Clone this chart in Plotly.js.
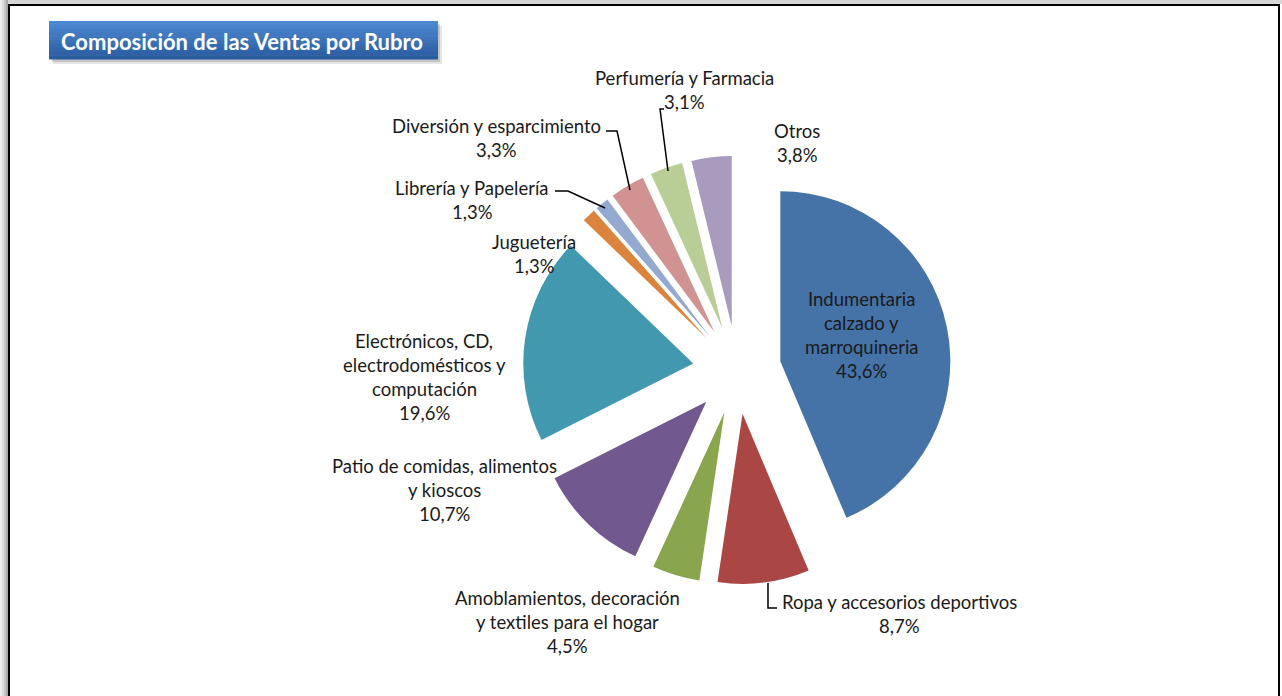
<!DOCTYPE html>
<html><head><meta charset="utf-8">
<script src="https://cdn.plot.ly/plotly-3.0.1.min.js"></script>
<style>html,body{margin:0;padding:0;background:#fff;overflow:hidden}</style>
</head><body><div id="chart" style="width:1282px;height:696px"></div>
<script>
// ---- data ----
const categories = [
  "Indumentaria<br>calzado y<br>marroquineria",
  "Ropa y accesorios deportivos",
  "Amoblamientos, decoración<br>y textiles para el hogar",
  "Patio de comidas, alimentos<br>y kioscos",
  "Electrónicos, CD,<br>electrodomésticos y<br>computación",
  "Juguetería",
  "Librería y Papelería",
  "Diversión y esparcimiento",
  "Perfumería y Farmacia",
  "Otros"
];
const values = [43.6, 8.7, 4.5, 10.7, 19.6, 1.3, 1.3, 3.3, 3.1, 3.8];
const sliceColors = ["#4572a7", "#aa4643", "#89a54e", "#71588f", "#4198af",
                     "#db843d", "#93a9cf", "#d19392", "#b9cd96", "#a99bbd"];
const chartTitle = "Composición de las Ventas por Rubro";

// ---- layout helpers ----
const W = 1282, H = 696;
const X = p => p / W, Y = p => 1 - p / H;
const FONT = "Lato, 'Open Sans', sans-serif";
const LINE = 24;

// label centers (pixel) of the first text line
const labelPos = [
  [862, 299], [899, 602], [567, 598], [444, 466], [424, 341],
  [534, 242], [472, 188], [496, 126], [684, 78], [797, 131]
];

const pull = 0.26, radius = 170, cx = 737, cy = 370;
const half = radius * (1 + pull);

const pieTrace = {
  type: "pie",
  values: values,
  labels: categories.map(c => c.replace(/<br>/g, " ")),
  sort: false,
  direction: "clockwise",
  rotation: 0,
  pull: values.map(() => pull),
  marker: { colors: sliceColors, line: { width: 0 } },
  textinfo: "none",
  hoverinfo: "label+percent",
  showlegend: false,
  domain: { x: [X(cx - half), X(cx + half)], y: [Y(cy + half), Y(cy - half)] }
};

const annotations = [];
categories.forEach((cat, i) => {
  const lines = cat.split("<br>").concat([values[i].toFixed(1).replace(".", ",") + "%"]);
  lines.forEach((ln, j) => {
    annotations.push({
      xref: "paper", yref: "paper", x: X(labelPos[i][0]), y: Y(labelPos[i][1] + j * LINE),
      xanchor: "center", yanchor: "middle", showarrow: false,
      text: ln, font: { family: FONT, size: 18.5, color: "#1a1a1a" }
    });
  });
});
annotations.push({
  xref: "paper", yref: "paper", x: X(242), y: Y(41), xanchor: "center", yanchor: "middle",
  showarrow: false, text: "<b>" + chartTitle + "</b>",
  font: { family: FONT, size: 22, color: "#ffffff" }
});

const shapes = [];
const rect = (x0, y0, x1, y1, fill, extra) => Object.assign({
  type: "rect", xref: "paper", yref: "paper", x0: X(x0), x1: X(x1), y0: Y(y1), y1: Y(y0),
  fillcolor: fill, line: { width: 0 }, layer: "below"
}, extra || {});
// outer shadow band and frame
shapes.push(rect(0, 0, W, 4, "#d6d6d6"));
[["#ececec", 0], ["#dcdcdc", 2], ["#c6c6c6", 4], ["#a8a8a8", 6]].forEach(([c, x]) =>
  shapes.push(rect(x, 0, x + 2, H, c)));
shapes.push({ type: "line", xref: "paper", yref: "paper", x0: X(9), x1: X(9), y0: Y(H + 2), y1: Y(5), line: { color: "#000", width: 2 }, layer: "above" });
shapes.push({ type: "line", xref: "paper", yref: "paper", x0: X(8), x1: X(1280), y0: Y(5), y1: Y(5), line: { color: "#000", width: 2 }, layer: "above" });
shapes.push({ type: "line", xref: "paper", yref: "paper", x0: X(1279), x1: X(1279), y0: Y(H + 2), y1: Y(5), line: { color: "#000", width: 2 }, layer: "above" });

// title box shadow + gradient
shapes.push(rect(53, 26, 442, 64, "rgba(0,0,0,0.10)"));
shapes.push(rect(52, 24, 440, 62, "rgba(0,0,0,0.15)"));
const g0 = [76, 136, 210], g1 = [42, 92, 160];
const N = 10, bx0 = 49, bx1 = 438, by0 = 21, by1 = 59;
for (let k = 0; k < N; k++) {
  const t = k / (N - 1);
  const c = g0.map((v, i) => Math.round(v + (g1[i] - v) * t));
  shapes.push(rect(bx0, by0 + (by1 - by0) * k / N, bx1, by0 + (by1 - by0) * (k + 1) / N + 0.5,
    "rgb(" + c.join(",") + ")", { layer: "above" }));
}

// leader lines
const leaders = [
  "M606,131 L617,131 L630,190",
  "M555,191 L568,191 L605,208",
  "M664,109 L660,109 L668,171",
  "M768,583 L768,608 L777,608"
];
const toPaperPath = p => p.replace(/(\d+(?:\.\d+)?),(\d+(?:\.\d+)?)/g,
  (m, a, b) => X(+a).toFixed(5) + "," + Y(+b).toFixed(5));
leaders.forEach(p => shapes.push({ type: "path", xref: "paper", yref: "paper",
  path: toPaperPath(p), line: { color: "#000", width: 1.5 }, layer: "above" }));

const layout = {
  width: W, height: H, margin: { l: 0, r: 0, t: 0, b: 0 },
  paper_bgcolor: "#ffffff", plot_bgcolor: "#ffffff",
  showlegend: false, annotations: annotations, shapes: shapes
};
Plotly.newPlot("chart", [pieTrace], layout, { displayModeBar: false });
</script></body></html>
